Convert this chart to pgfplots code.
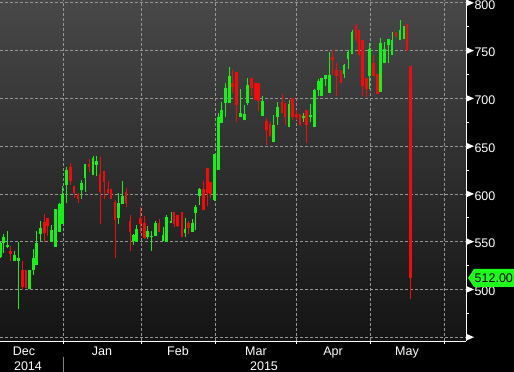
\documentclass[border=0pt]{standalone}
\usepackage{pgfplots}
\pgfplotsset{compat=1.18}
\usepackage{pgfplotstable}
\usepackage{fontspec}
\setmainfont{Liberation Sans}
\definecolor{upc}{RGB}{25,240,25}
\definecolor{dnc}{RGB}{240,12,12}
\definecolor{gridc}{RGB}{150,150,150}
\definecolor{bgtop}{RGB}{72,72,72}
\definecolor{bgbot}{RGB}{20,20,20}
\definecolor{tagc}{RGB}{30,250,30}

\pgfplotstableread{
x O H L C
0.5 534 550 533 549
3.3 549 558 538 555
7.7 544 561 543 546
14.7 530 540 529.6 536.5
18.7 530 550 480 533
29.7 500 520.5 500 520
33.7 520 542 515 533
36.7 526 561 526 549
40.7 558 572 551 564
51.7 550 567 550 562
55.7 544 584 544 584
59.7 560 590 560 589
62.7 569 608 569 600
66.7 609 628 590 625
81.7 604 615 595 611
85 617 631 602 631
93 620 640 620 638
96.7 630 640 619 634
118.7 575 601 568 591
122.3 589 614 589 598
133.7 551 558 547 557
136.7 550 567 550 563
147.7 555 566 553 561
151.7 555 561 540 556
155.7 556 572 556 570
163 551 565 551 557
166.7 550 578 550 576
171 569.5 581 569.5 572
185 559 575 555 563
192.7 560 574 560 570
195.7 580 588 562 586
199.7 598 606 588 605
214.7 594 642 593 642
218.7 625 685 625 681
221.7 674 696 674 688
225.7 695 716 681 711
229.7 695 733 695 723
240.7 681 710 681 685
244.7 677 693 677 684
247.7 695 721 693 714
262.7 682 703 682 697
273.7 654 683 654 672
277.7 680 696 672 691
289 670 698 670 694
303.7 679 685 675 682
310.7 681 694 675 683
314.7 670 710 670 709
318.7 709 720 702 718
321.7 702 721 702 721
325.7 720 724 713 724
329.7 706 749 706 725
344 726 736 721 735
348 741 751 731 749
352 746 772 746 770
369.3 723 758 710 752
380.7 707 763 707 758
384.7 737 759 737 752
388.3 756 762 737 762
392 745 770 745 761
400 761 782 761 772
404 762 776 762 776
}\up

\pgfplotstableread{
x O H L C
10.7 540 545 530 537
22.7 520 530 499.6 503
26 520 520 501 501
44.7 571 579 550 559
47.7 575 575 556 566
70.7 628 632 609 614
74 608 608 596 601
78 600 600.5 590 595
89 631 637 623 628
100 621 639 568 602
104 624 624 595 612
108 605 613 600 601
111 605 605 595 595
115 592 594 533 573
126 602 606 586 590
130 572 578 540 560
140.7 575 586 559 569
144.7 570 577 553 554
159 570 574 560 560
174 581 581 565 568
177.7 578 578 565 566
182 581 581 555 555
188.7 570 572 558 564
203.7 605 613 583 583
207.7 627 627 587 601
210.7 612 612 596 600
232.7 716 730 706 712
236.7 728 728 675 693
251.7 721 721 702 711
255.7 716 716 698 698
258.7 716 716 687 697
266.7 676 679 651 667
270 673 675 660 661
282 696 705 685 685
285 695 695 672 681
292.7 700 700 677 681
296.3 684 688 677 681
300 684 684 671 672
306.7 688 688 653 672
332.7 743 751 725 740
336.7 730 737 702 723
341 730 730 716 716
356 777 778 759 762
359 772 772 745 745
362.3 761 761 702 713
366.7 721 721 701 710
373.7 737 745 723 723
377.7 726 726 705 705
396 770 770 763 765
407 778 778 750 750
410.3 734 734 490 512
}\down

\begin{document}
\begin{tikzpicture}
\useasboundingbox (0,0) rectangle (514bp,-372bp);
\fill[black] (0,0) rectangle (514bp,-372bp);
\begin{axis}[
  at={(0,0)}, anchor=north west,
  scale only axis, width=466bp, height=341bp,
  xmin=0, xmax=466, ymin=446, ymax=803,
  clip=false,
  axis x line=bottom, axis y line=right,
  axis line style={white, line width=1bp, -},
  axis background/.style={top color=bgtop, bottom color=bgbot},
  xtick={63.3,141.7,215.7,296.7,370.7,444.7},
  xticklabels={},
  extra x ticks={24,102,178,256,333,407},
  extra x tick labels={Dec,Jan,Feb,Mar,Apr,May},
  extra x tick style={grid=none, tick style={draw=none}},
  ytick={500,550,...,800},
  extra y ticks={450},
  extra y tick labels={},
  extra y tick style={grid=major},
  minor ytick={475,525,...,775},
  grid=major,
  major grid style={gridc, dash pattern=on 3bp off 2bp, line width=0.8bp},
  tick align=outside,
  major tick length=3bp, minor tick length=3bp,
  tick style={white, line width=1bp},
  ticklabel style={white, font=\fontsize{12.5bp}{14bp}\selectfont},
  /pgf/number format/assume math mode=true,
  yticklabel style={xshift=2bp, yshift=-2bp},
  xticklabel style={yshift=1bp},
]
\addplot[draw=none, mark=none, forget plot,
  error bars/.cd, y dir=plus, y explicit, error mark=none,
  error bar style={draw=upc, line width=1bp}]
  table[x=x, y=L, y error plus expr=\thisrow{H}-\thisrow{L}]{\up};
\addplot[draw=none, mark=none, forget plot,
  error bars/.cd, y dir=plus, y explicit, error mark=none,
  error bar style={draw=upc, line width=2.7bp}]
  table[x=x, y=O, y error plus expr=\thisrow{C}-\thisrow{O}]{\up};
\addplot[draw=none, mark=none, forget plot,
  error bars/.cd, y dir=plus, y explicit, error mark=none,
  error bar style={draw=dnc, line width=1bp}]
  table[x=x, y=L, y error plus expr=\thisrow{H}-\thisrow{L}]{\down};
\addplot[draw=none, mark=none, forget plot,
  error bars/.cd, y dir=plus, y explicit, error mark=none,
  error bar style={draw=dnc, line width=2.7bp}]
  table[x=x, y=C, y error plus expr=\thisrow{O}-\thisrow{C}]{\down};
\pgfplotsinvokeforeach{450,500,550,600,650,700,750,800}{
  \fill[white] ([yshift=3.5bp]axis cs:466,#1) -- ([xshift=8bp]axis cs:466,#1) -- ([yshift=-3.5bp]axis cs:466,#1) -- cycle;
}
\coordinate (tagpt) at (axis cs:466,512);
\coordinate (y2014) at (axis cs:28,446);
\coordinate (y2015) at (axis cs:264,446);
\coordinate (sep) at (axis cs:63.3,446);
\end{axis}
\fill[tagc] ([xshift=2bp]tagpt) -- ++(6bp,9bp) -- ++(40bp,0) -- ++(0,-18bp) -- ++(-40bp,0) -- cycle;
\node[anchor=west, inner sep=0pt, text=black, font=\fontsize{12.5bp}{14bp}\selectfont] at ([xshift=8.5bp]tagpt) {512.00};
\node[white, font=\fontsize{12.5bp}{14bp}\selectfont] at ([yshift=-25bp]y2014) {2014};
\node[white, font=\fontsize{12.5bp}{14bp}\selectfont] at ([yshift=-25bp]y2015) {2015};
\draw[gray, line width=1bp] ([yshift=-16bp]sep) -- ([yshift=-31bp]sep);
\end{tikzpicture}
\end{document}
